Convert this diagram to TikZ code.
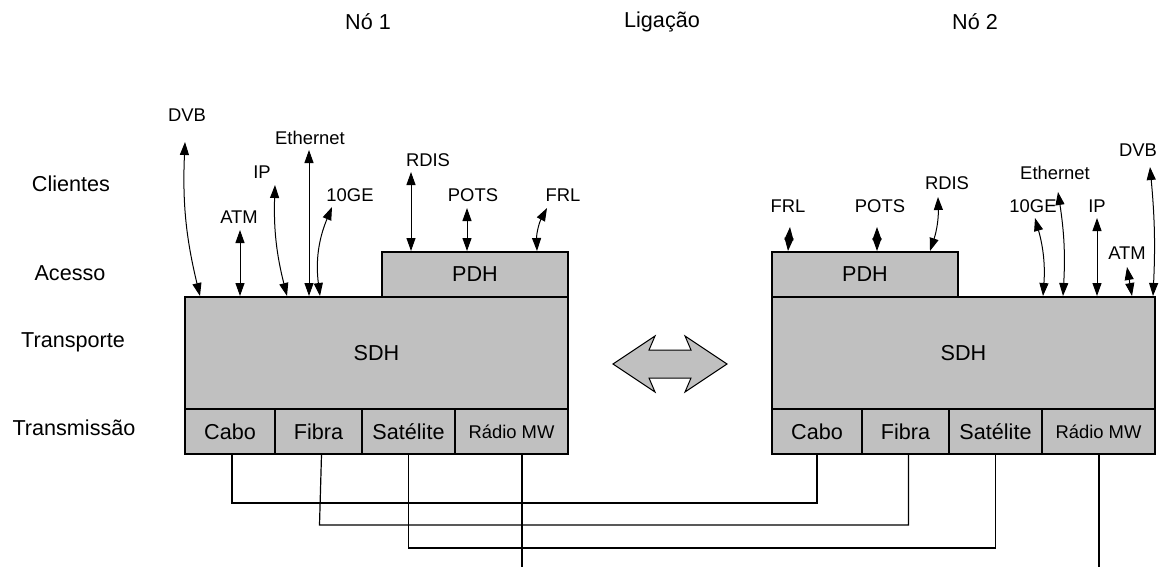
\documentclass[tikz,border=0pt]{standalone}
\usepackage{fontspec}
\setmainfont{Liberation Sans}
\usetikzlibrary{arrows.meta, positioning}
\definecolor{boxgray}{HTML}{C0C0C0}

\begin{document}
\begin{tikzpicture}[
    x=0.5pt, y=-0.5pt,
    every node/.style={font=\fontsize{10.8}{12}\selectfont, inner sep=0pt},
    camada/.style={draw, fill=boxgray, line width=0.6pt},
    celula/.style={camada, minimum height=22.5pt},
    proto/.style={font=\fontsize{9.2}{10}\selectfont},
    seta/.style={{Triangle[length=6.5pt,width=4.5pt]}-{Triangle[length=6.5pt,width=4.5pt]}, line width=0.5pt},
    fio/.style={line width=0.6pt}
]
\useasboundingbox (0,0) rectangle (1161,567);

% Titulos
\node (no1) at (368,22) {Nó 1};
\node (lig) at (662,22) {Ligação};
\node (no2) at (975,22) {Nó 2};

% Camadas
\node (cli) at (71,184) {Clientes};
\node (ace) at (70,273) {Acesso};
\node (tra) at (73,342) {Transporte};
\node (tsm) at (74,428) {Transmissão};

% No 1
\node[camada, minimum width=191.5pt, minimum height=56pt] (sdh1) at (376.5,353) {SDH};
\node[camada, minimum width=93pt, minimum height=22.5pt] (pdh1) at (475,274.5) {PDH};
\node[celula, minimum width=45pt] (cabo1) at (230,431.5) {Cabo};
\node[celula, minimum width=43.5pt] (fibra1) at (318.5,431.5) {Fibra};
\node[celula, minimum width=46.5pt] (sat1) at (408.5,431.5) {Satélite};
\node[celula, minimum width=56.5pt, font=\fontsize{9.2}{11}\selectfont] (radio1) at (511.5,431.5) {Rádio MW};

% No 2
\node[camada, minimum width=191.5pt, minimum height=56pt] (sdh2) at (963.5,353) {SDH};
\node[camada, minimum width=93pt, minimum height=22.5pt] (pdh2) at (865,274.5) {PDH};
\node[celula, minimum width=45pt] (cabo2) at (817,431.5) {Cabo};
\node[celula, minimum width=43.5pt] (fibra2) at (905.5,431.5) {Fibra};
\node[celula, minimum width=46.5pt] (sat2) at (995.5,431.5) {Satélite};
\node[celula, minimum width=56.5pt, font=\fontsize{9.2}{11}\selectfont] (radio2) at (1098.5,431.5) {Rádio MW};

% Clientes do no 1
\node[proto] (dvb1) at (187,115) {DVB};
\node[proto] (atm1) at (239,217) {ATM};
\node[proto] (ip1) at (262,172) {IP};
\node[proto] (eth1) at (310,138) {Ethernet};
\node[proto] (ge1) at (350,195) {10GE};
\node[proto] (rdis1) at (428,160) {RDIS};
\node[proto] (pots1) at (473,195) {POTS};
\node[proto] (frl1) at (563,195) {FRL};

\coordinate (dvb1t) at (185,142);  \coordinate (dvb1b) at (200,296);
\coordinate (atm1t) at (240,230);  \coordinate (atm1b) at (240,296);
\coordinate (ip1t) at (275,185);   \coordinate (ip1b) at (287,296);
\coordinate (eth1t) at (309,150);  \coordinate (eth1b) at (309,296);
\coordinate (ge1t) at (332,207);   \coordinate (ge1b) at (320,296);
\coordinate (rdis1t) at (411,172); \coordinate (rdis1b) at (411,251);
\coordinate (pots1t) at (467,208); \coordinate (pots1b) at (467,251);
\coordinate (frl1t) at (547,208);  \coordinate (frl1b) at (537,251);

\draw[seta] (dvb1t) to[bend right=8] (dvb1b);
\draw[seta] (atm1t) -- (atm1b);
\draw[seta] (ip1t) to[bend right=8] (ip1b);
\draw[seta] (eth1t) -- (eth1b);
\draw[seta] (ge1t) to[bend right=15] (ge1b);
\draw[seta] (rdis1t) -- (rdis1b);
\draw[seta] (pots1t) -- (pots1b);
\draw[seta] (frl1t) to[bend right=15] (frl1b);

% Clientes do no 2
\node[proto] (frl2) at (788,206) {FRL};
\node[proto] (pots2) at (880,206) {POTS};
\node[proto] (rdis2) at (947,183) {RDIS};
\node[proto] (ge2) at (1033,206) {10GE};
\node[proto] (eth2) at (1055,173) {Ethernet};
\node[proto] (ip2) at (1097,206) {IP};
\node[proto] (atm2) at (1127,253) {ATM};
\node[proto] (dvb2) at (1138,150) {DVB};

\coordinate (frl2t) at (790,227);   \coordinate (frl2b) at (788,251);
\coordinate (pots2t) at (877,227);  \coordinate (pots2b) at (877,251);
\coordinate (rdis2t) at (938,197);  \coordinate (rdis2b) at (930,251);
\coordinate (ge2t) at (1035,218);   \coordinate (ge2b) at (1043,296);
\coordinate (eth2t) at (1058,192);  \coordinate (eth2b) at (1063,296);
\coordinate (ip2t) at (1097,218);   \coordinate (ip2b) at (1097,296);
\coordinate (atm2t) at (1127,267);  \coordinate (atm2b) at (1132,296);
\coordinate (dvb2t) at (1150,167);  \coordinate (dvb2b) at (1153,296);

\draw[seta] (frl2t) -- (frl2b);
\draw[seta] (pots2t) -- (pots2b);
\draw[seta] (rdis2t) to[bend left=10] (rdis2b);
\draw[seta] (ge2t) to[bend left=10] (ge2b);
\draw[seta] (eth2t) to[bend left=6] (eth2b);
\draw[seta] (ip2t) -- (ip2b);
\draw[seta] (atm2t) -- (atm2b);
\draw[seta] (dvb2t) to[bend left=4] (dvb2b);

% Ligacao entre os nos
\draw[fill=boxgray, line width=0.5pt] (613,364) -- (655,336) -- (649,350) -- (691,350) -- (685,336)
    -- (727,364) -- (685,392) -- (691,378) -- (649,378) -- (655,392) -- cycle;

\coordinate (cabolig) at (0,503);
\coordinate (fibralig) at (0,525);
\coordinate (satlig) at (0,548);
\coordinate (radio1fim) at (522,567);
\coordinate (radio2fim) at (1099,567);

\draw[fio] ([xshift=1pt]cabo1.south) -- ([xshift=1pt]cabo1.south |- cabolig) -| (cabo2.south);
\draw[fio] ([xshift=1.5pt]fibra1.south) -- ([xshift=0.5pt]fibra1.south |- fibralig) -| ([xshift=1.5pt]fibra2.south);
\draw[fio] (sat1.south) -- (sat1.south |- satlig) -| (sat2.south);
\draw[fio] (radio1.south -| radio1fim) -- (radio1fim);
\draw[fio] (radio2.south -| radio2fim) -- (radio2fim);

\end{tikzpicture}
\end{document}
